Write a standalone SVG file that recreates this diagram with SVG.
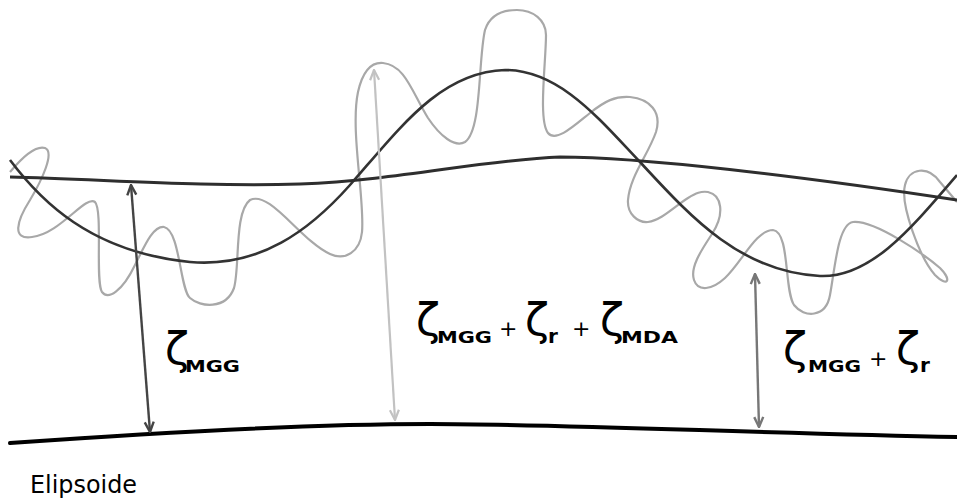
<svg xmlns="http://www.w3.org/2000/svg" width="957" height="502" viewBox="0 0 957 502">
<style>
.ell{fill:none;stroke:#000;stroke-width:4;stroke-linecap:round}
.mgg{fill:none;stroke:#2e2e2e;stroke-width:3}
.dw{fill:none;stroke:#333;stroke-width:2.6}
.gw{fill:none;stroke:#a8a8a8;stroke-width:2.2}
.a1{stroke:#444;stroke-width:2.4;fill:none}
.a2{stroke:#c2c2c2;stroke-width:2.2;fill:none}
.a3{stroke:#777;stroke-width:2.4;fill:none}
.z{font-family:"DejaVu Sans",sans-serif;font-size:44px;fill:#000}
.s{font-family:"DejaVu Sans",sans-serif;font-size:15px;fill:#000;font-weight:bold}
.r{font-family:"DejaVu Sans",sans-serif;font-size:20px;fill:#000;font-weight:bold}
.p{font-family:"DejaVu Sans",sans-serif;font-size:22px;fill:#000}
.t{font-family:"DejaVu Sans",sans-serif;font-size:24px;fill:#000}
</style>
<defs>
<marker id="m1" viewBox="0 0 12 12" refX="11" refY="6" markerWidth="12" markerHeight="12" markerUnits="userSpaceOnUse" orient="auto-start-reverse"><path d="M1,1.5 L11,6 L1,10.5" fill="none" stroke="#444" stroke-width="2.4"/></marker>
<marker id="m2" viewBox="0 0 12 12" refX="11" refY="6" markerWidth="12" markerHeight="12" markerUnits="userSpaceOnUse" orient="auto-start-reverse"><path d="M1,1.5 L11,6 L1,10.5" fill="none" stroke="#c2c2c2" stroke-width="2.2"/></marker>
<marker id="m3" viewBox="0 0 12 12" refX="11" refY="6" markerWidth="12" markerHeight="12" markerUnits="userSpaceOnUse" orient="auto-start-reverse"><path d="M1,1.5 L11,6 L1,10.5" fill="none" stroke="#777" stroke-width="2.4"/></marker>
</defs>
<rect width="957" height="502" fill="#fff"/>
<g id="surfaces">
<path id="gray-wave" class="gw" d="M10,172 C20,160 35,145 45,148 C55,152 42,180 30,200 C16,222 12,240 32,237 C60,234 85,195 95,202 C103,210 95,282 102,292 C108,300 122,292 135,265 C145,245 153,226 164,227 C180,230 180,290 190,298 C200,307 226,310 234,288 C240,268 234,212 250,200 C270,190 300,240 330,254 C345,261 360,252 362,232 C365,200 350,130 358,92 C363,70 372,62 383,63 C405,65 412,92 428,118 C440,136 455,148 465,142 C482,130 478,60 485,30 C490,15 503,10 517,10 C533,10 546,20 546,35 C546,62 538,120 548,133 C556,143 575,125 590,113 C605,101 615,96 630,97 C650,99 662,112 656,132 C648,155 630,176 628,200 C627,214 638,223 648,222 C662,220 675,206 688,198 C696,193 701,191 708,192 C722,195 725,214 712,234 C700,252 690,268 694,280 C698,292 712,290 725,278 C742,262 756,230 773,230 C790,232 784,290 794,305 C804,318 826,318 830,295 C835,268 838,224 853,222 C875,220 925,255 940,268 C952,280 948,288 935,275 C920,258 900,205 905,185 C909,168 928,165 940,182 L957,202"/>
<path id="geoid-mgg-r" class="dw" d="M10,160 C40,200 90,252 190,262 C260,268 310,230 350,185 C400,128 440,72 505,70 C560,70 600,120 640,162 C690,216 740,272 820,276 C870,278 910,230 957,175"/>
<path id="geoid-mgg" class="mgg" d="M10,177 C100,179 200,187 300,184 C400,180 480,160 560,157 C640,157 800,176 957,200"/>
<path id="ellipsoid" class="ell" d="M10,443 C150,433 300,424 430,424 C560,424 750,433 957,437"/>
</g>
<g id="connectors">
<line class="a1" x1="131" y1="185" x2="150" y2="432" marker-start="url(#m1)" marker-end="url(#m1)"/>
<line class="a2" x1="374" y1="70" x2="395" y2="420" marker-start="url(#m2)" marker-end="url(#m2)"/>
<line class="a3" x1="755" y1="274" x2="759" y2="427" marker-start="url(#m3)" marker-end="url(#m3)"/>
</g>
<g id="label-mgg">
<text class="z" x="165" y="364">ζ</text>
<text class="s" x="185" y="372" textLength="55" lengthAdjust="spacingAndGlyphs">MGG</text>
</g>
<g id="label-mgg-r-mda">
<text class="z" x="416" y="335">ζ</text>
<text class="s" x="437" y="343" textLength="55" lengthAdjust="spacingAndGlyphs">MGG</text>
<text class="p" x="499" y="336">+</text>
<text class="z" x="525" y="335">ζ</text>
<text class="r" x="548" y="343">r</text>
<text class="p" x="572" y="336">+</text>
<text class="z" x="600" y="335">ζ</text>
<text class="s" x="621" y="343" textLength="57" lengthAdjust="spacingAndGlyphs">MDA</text>
</g>
<g id="label-mgg-r">
<text class="z" x="783" y="364">ζ</text>
<text class="s" x="808" y="372" textLength="53" lengthAdjust="spacingAndGlyphs">MGG</text>
<text class="p" x="869" y="366">+</text>
<text class="z" x="896" y="364">ζ</text>
<text class="r" x="920" y="372">r</text>
</g>
<g id="label-ellipsoid">
<text class="t" x="30" y="493" textLength="107" lengthAdjust="spacingAndGlyphs">Elipsoide</text>
</g>
</svg>
